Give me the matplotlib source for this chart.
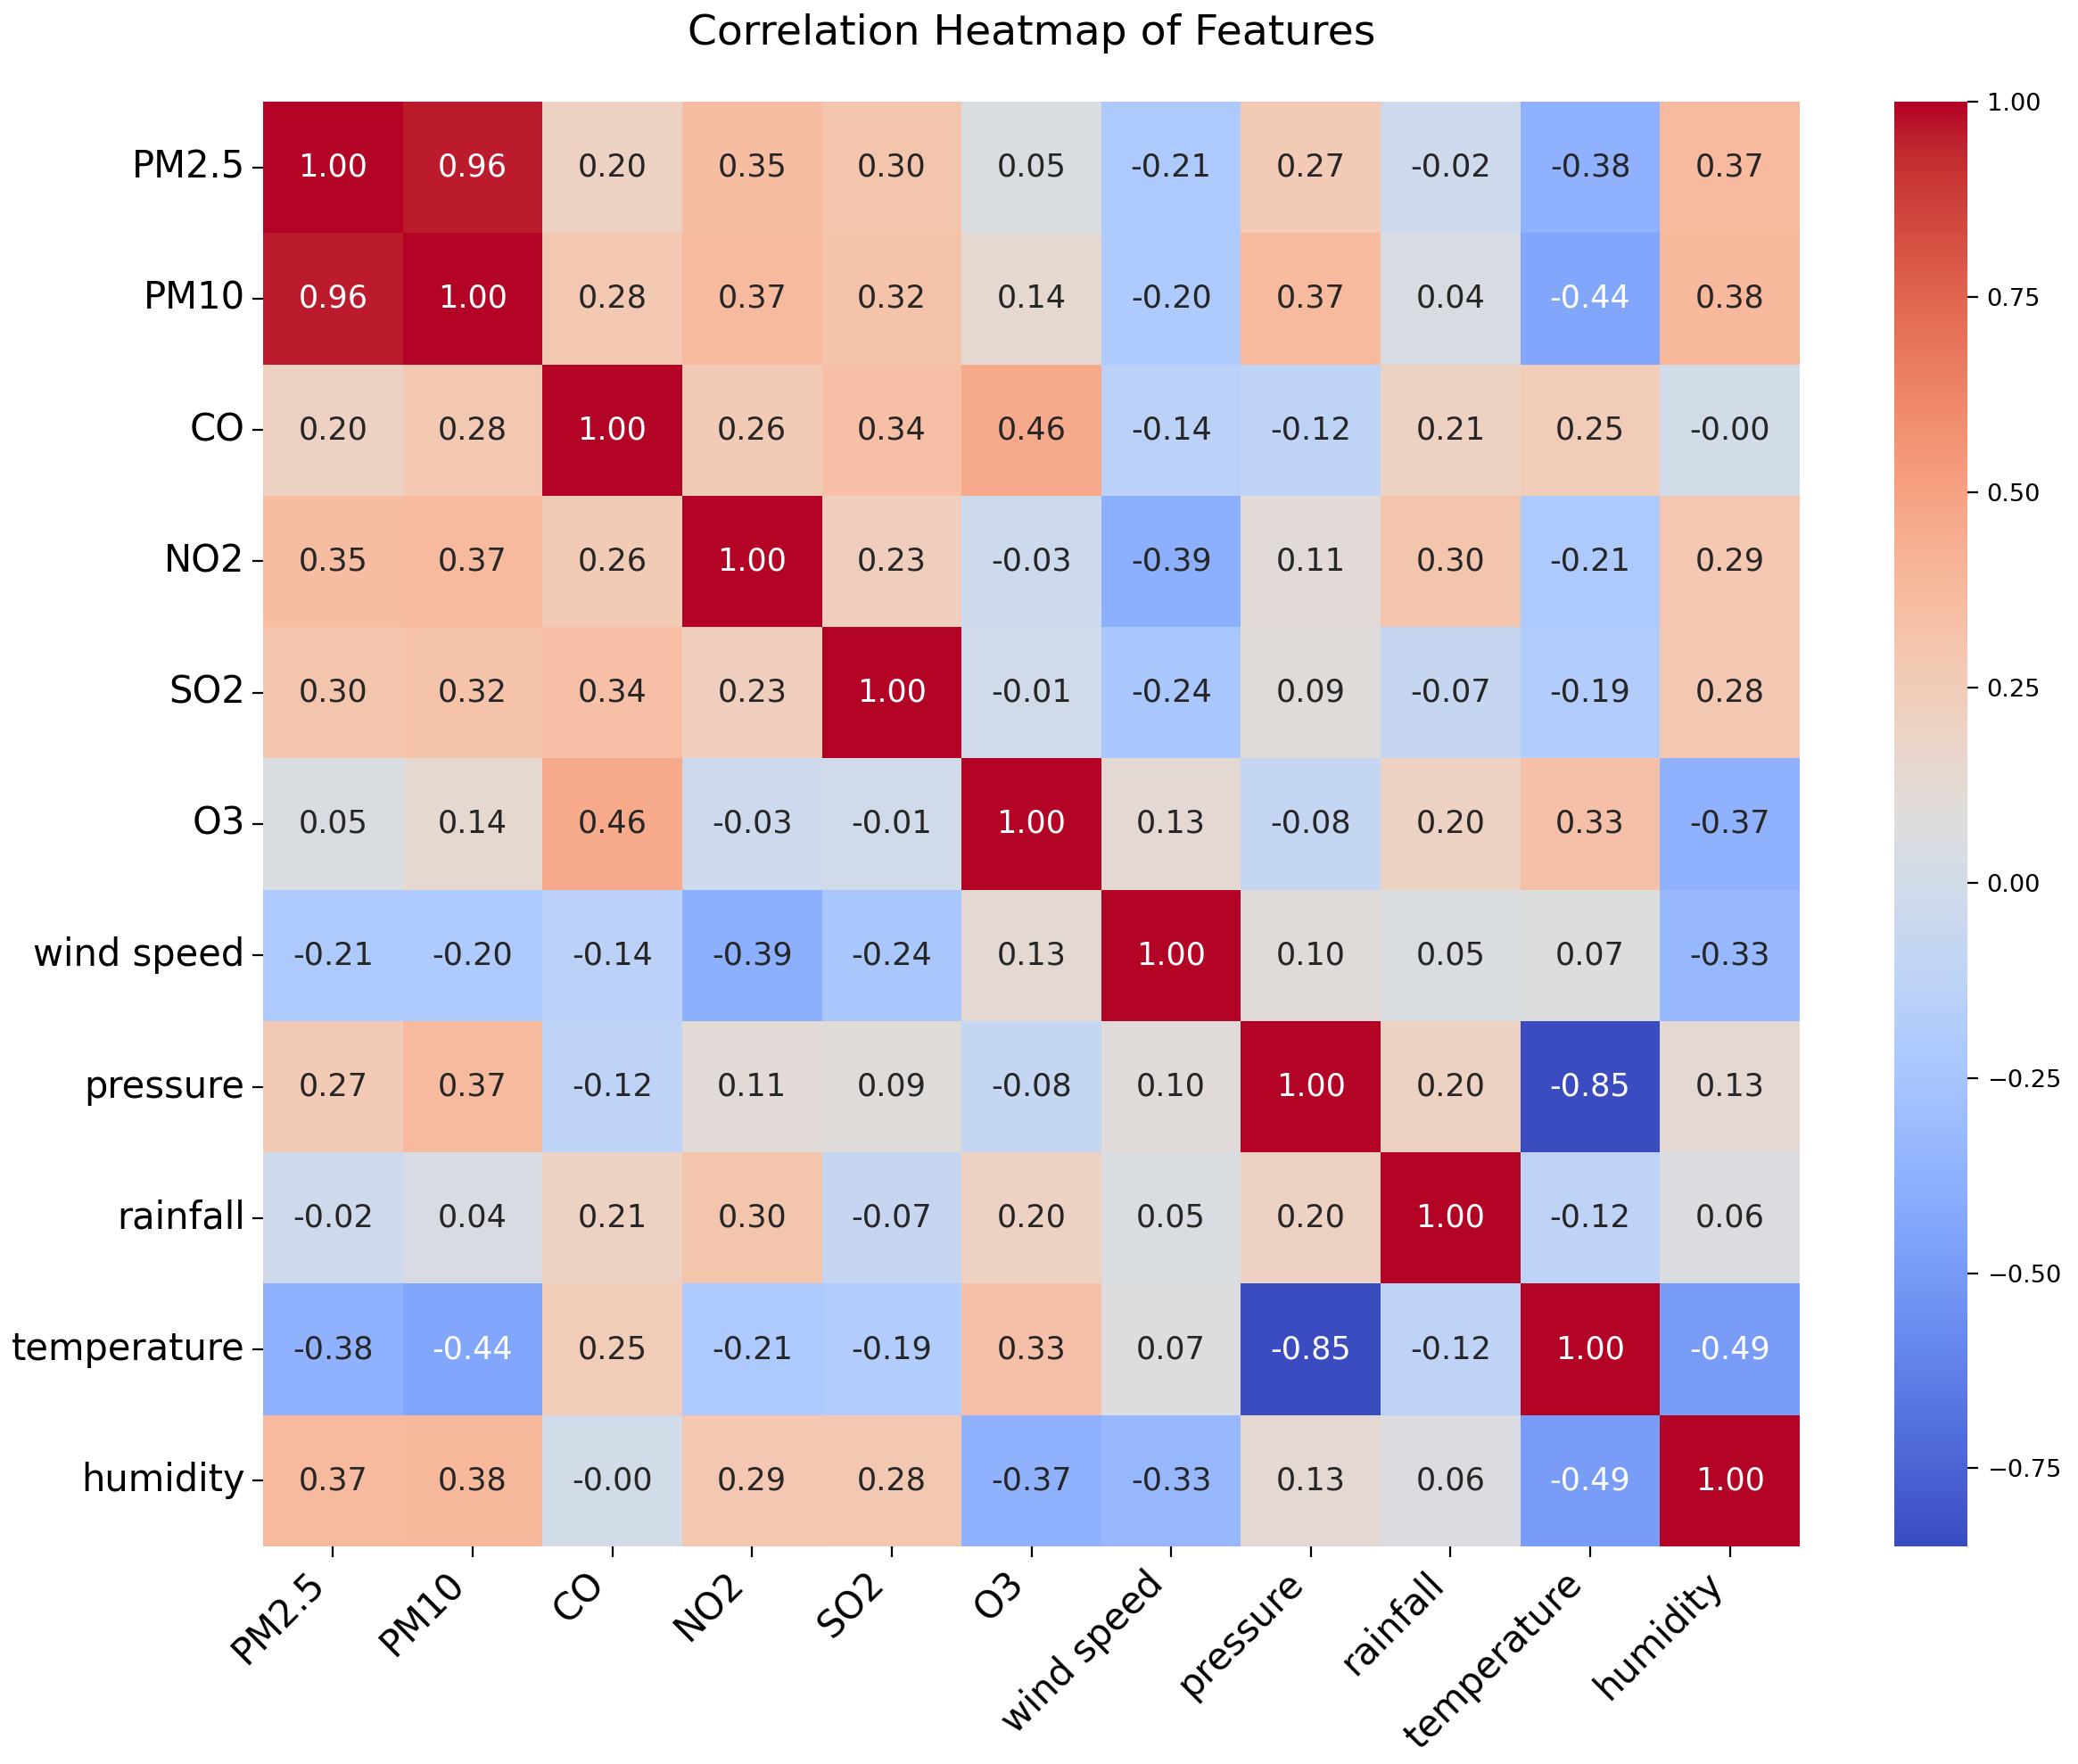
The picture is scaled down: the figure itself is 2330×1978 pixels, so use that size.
import numpy as np
import matplotlib
matplotlib.use("Agg")
import matplotlib.pyplot as plt
import seaborn as sns

labels = ["PM2.5", "PM10", "CO", "NO2", "SO2", "O3", "wind speed", "pressure",
          "rainfall", "temperature", "humidity"]

row_pm25 = [1.00, 0.96, 0.20, 0.35, 0.30, 0.05, -0.21, 0.27, -0.02, -0.38, 0.37]
row_pm10 = [0.96, 1.00, 0.28, 0.37, 0.32, 0.14, -0.20, 0.37, 0.04, -0.44, 0.38]
row_co = [0.20, 0.28, 1.00, 0.26, 0.34, 0.46, -0.14, -0.12, 0.21, 0.25, -0.001]
row_no2 = [0.35, 0.37, 0.26, 1.00, 0.23, -0.03, -0.39, 0.11, 0.30, -0.21, 0.29]
row_so2 = [0.30, 0.32, 0.34, 0.23, 1.00, -0.01, -0.24, 0.09, -0.07, -0.19, 0.28]
row_o3 = [0.05, 0.14, 0.46, -0.03, -0.01, 1.00, 0.13, -0.08, 0.20, 0.33, -0.37]
row_wind = [-0.21, -0.20, -0.14, -0.39, -0.24, 0.13, 1.00, 0.10, 0.05, 0.07, -0.33]
row_pressure = [0.27, 0.37, -0.12, 0.11, 0.09, -0.08, 0.10, 1.00, 0.20, -0.85, 0.13]
row_rain = [-0.02, 0.04, 0.21, 0.30, -0.07, 0.20, 0.05, 0.20, 1.00, -0.12, 0.06]
row_temp = [-0.38, -0.44, 0.25, -0.21, -0.19, 0.33, 0.07, -0.85, -0.12, 1.00, -0.49]
row_hum = [0.37, 0.38, -0.001, 0.29, 0.28, -0.37, -0.33, 0.13, 0.06, -0.49, 1.00]

corr = np.array([row_pm25, row_pm10, row_co, row_no2, row_so2, row_o3, row_wind,
                 row_pressure, row_rain, row_temp, row_hum])

W, H = 2330, 1978
fig = plt.figure(figsize=(W / 200, H / 200), dpi=200)
ax = fig.add_axes([295 / W, 1 - 1734 / H, (2018 - 295) / W, (1734 - 114) / H])
cax = fig.add_axes([2124 / W, 1 - 1734 / H, (2206 - 2124) / W, (1734 - 114) / H])

sns.heatmap(corr, annot=True, fmt=".2f", cmap="coolwarm", ax=ax, cbar_ax=cax,
            xticklabels=labels, yticklabels=labels, annot_kws={"size": 12.6})

ax.set_title("Correlation Heatmap of Features", fontsize=17, pad=23)
plt.setp(ax.get_xticklabels(), rotation=45, ha="right", fontsize=15)
plt.setp(ax.get_yticklabels(), rotation=0, fontsize=15)
ax.tick_params(length=4.3, pad=3)
cax.tick_params(labelsize=9.8, length=4.3)

fig.savefig("out.png", dpi=200)
